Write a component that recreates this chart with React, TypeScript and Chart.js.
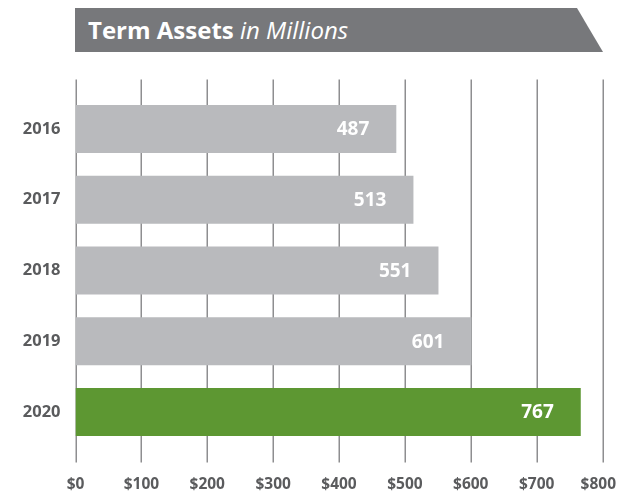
import React, { useEffect, useRef } from "react";
import { Chart, registerables } from "chart.js";

Chart.register(...registerables);

const years = ["2016", "2017", "2018", "2019", "2020"];
const assets = [487, 513, 551, 601, 767];
const barColors = ["#b9babd", "#b9babd", "#b9babd", "#b9babd", "#5d9732"];
const xTicks = [0, 100, 200, 300, 400, 500, 600, 700, 800];
const titleMain = "Term Assets";
const titleSub = "in Millions";

const FONT = "'Open Sans', 'Noto Sans', sans-serif";
const TEXT_GRAY = "#5a5b5d";

const gridPlugin = {
  id: "customGrid",
  beforeDatasetsDraw(chart: any) {
    const { ctx, chartArea, scales } = chart;
    const x = scales.x;
    ctx.save();
    ctx.strokeStyle = "#8e8e90";
    ctx.lineWidth = 1.5;
    xTicks.forEach((v) => {
      const px = Math.round(x.getPixelForValue(v)) + 0.25;
      ctx.beginPath();
      ctx.moveTo(px, chartArea.top - 14);
      ctx.lineTo(px, chartArea.bottom + 15);
      ctx.stroke();
    });
    ctx.restore();
  },
  afterDatasetsDraw(chart: any) {
    const { ctx, chartArea, scales, width } = chart;
    const meta = chart.getDatasetMeta(0);
    ctx.save();
    ctx.fillStyle = "#ffffff";
    ctx.font = `bold 19px ${FONT}`;
    ctx.textAlign = "right";
    ctx.textBaseline = "middle";
    meta.data.forEach((bar: any, i: number) => {
      ctx.fillText(String(assets[i]), bar.x - 27, bar.y + 1);
    });
    ctx.fillStyle = TEXT_GRAY;
    ctx.font = `bold 15.5px ${FONT}`;
    ctx.textAlign = "center";
    ctx.textBaseline = "middle";
    const x = scales.x;
    xTicks.forEach((v) => {
      const label = "$" + v;
      const w = ctx.measureText(label).width;
      const px = Math.min(x.getPixelForValue(v), width - w / 2 - 1);
      ctx.fillText(label, px, chartArea.bottom + 37);
    });
    ctx.restore();
  },
};

export default function App() {
  const ref = useRef<HTMLCanvasElement | null>(null);
  useEffect(() => {
    if (!ref.current) return;
    const chart = new Chart(ref.current, {
      type: "bar",
      data: {
        labels: years,
        datasets: [
          {
            data: assets,
            backgroundColor: barColors,
            borderWidth: 0,
            barPercentage: 0.68,
            categoryPercentage: 1,
          },
        ],
      },
      options: {
        indexAxis: "y",
        animation: false,
        responsive: false,
        maintainAspectRatio: false,
        layout: { padding: { left: 0, right: 14.5, top: 93.6, bottom: 0 } },
        plugins: {
          legend: { display: false },
          tooltip: { enabled: false },
        },
        scales: {
          x: {
            min: 0,
            max: 800,
            grid: { display: false },
            border: { display: false },
            ticks: { display: false, stepSize: 100 },
            afterFit: (s: any) => {
              s.height = 47.6;
              s.paddingLeft = 0;
              s.paddingRight = 0;
            },
          },
          y: {
            grid: { display: false, drawTicks: false },
            border: { display: false },
            ticks: {
              color: TEXT_GRAY,
              padding: 15,
              font: { family: FONT, size: 16.5, weight: "bold" },
            },
            afterFit: (s: any) => {
              s.width = 75.5;
            },
          },
        },
      },
      plugins: [gridPlugin],
    });
    return () => chart.destroy();
  }, []);

  return (
    <div style={{ position: "absolute", left: 0, top: 0, width: 617, height: 495, background: "#fff" }}>
      <canvas ref={ref} width={617} height={495} style={{ position: "absolute", left: 0, top: 0 }} />
      <div
        style={{
          position: "absolute",
          left: 75,
          top: 8,
          width: 528,
          height: 44,
          background: "#77787b",
          clipPath: "polygon(0 0, 502px 0, 528px 100%, 0 100%)",
          color: "#fff",
          fontFamily: FONT,
          fontSize: 24,
          lineHeight: "44px",
          paddingLeft: 13,
          boxSizing: "border-box",
          whiteSpace: "nowrap",
        }}
      >
        <span style={{ fontWeight: "bold" }}>{titleMain}</span>{" "}
        <span style={{ fontStyle: "italic" }}>{titleSub}</span>
      </div>
    </div>
  );
}
